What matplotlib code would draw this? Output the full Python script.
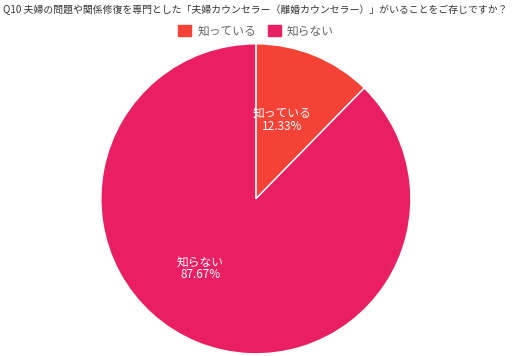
import numpy as np
import matplotlib.pyplot as plt

plt.rcParams['font.family'] = ['Noto Sans CJK JP', 'DejaVu Sans']

# データ
labels = ['知っている', '知らない']
values = [12.33, 87.67]
colors = ['#F44336', '#E91E63']
title = 'Q10 夫婦の問題や関係修復を専門とした「夫婦カウンセラー（離婚カウンセラー）」がいることをご存じですか？'

fig = plt.figure(figsize=(5.12, 3.56), dpi=100)
ax = fig.add_axes([0.197, 0.006, 0.6055, 0.871])

wedges, _ = ax.pie(values, colors=colors, startangle=90, counterclock=False,
                   radius=1.0, wedgeprops=dict(edgecolor='white', linewidth=1.0))
ax.set_xlim(-1, 1)
ax.set_ylim(-1, 1)
ax.set_aspect('equal')

# ラベル (少しずらす)
nudge = [(-0.04, 0.0), (-0.15, 0.06)]
for w, lab, v, (dx, dy) in zip(wedges, labels, values, nudge):
    mid = np.radians((w.theta1 + w.theta2) / 2)
    r = 0.55
    ax.text(r * np.cos(mid) + dx, r * np.sin(mid) + dy, f'{lab}\n{v:.2f}%',
            ha='center', va='center', color='white', fontsize=8.5, linespacing=1.0)

fig.text(0.006, 0.972, title, ha='left', va='center', fontsize=7.1, color='#333333')

handles = [plt.Rectangle((0, 0), 1, 1, color=c) for c in colors]
fig.legend(handles, labels, loc='center', bbox_to_anchor=(0.5, 0.913), ncol=2,
           frameon=False, fontsize=8.5, labelcolor='#666666', handlelength=1.1,
           handleheight=1.1, handletextpad=0.5, columnspacing=1.0)

fig.savefig('out.png', dpi=100)
